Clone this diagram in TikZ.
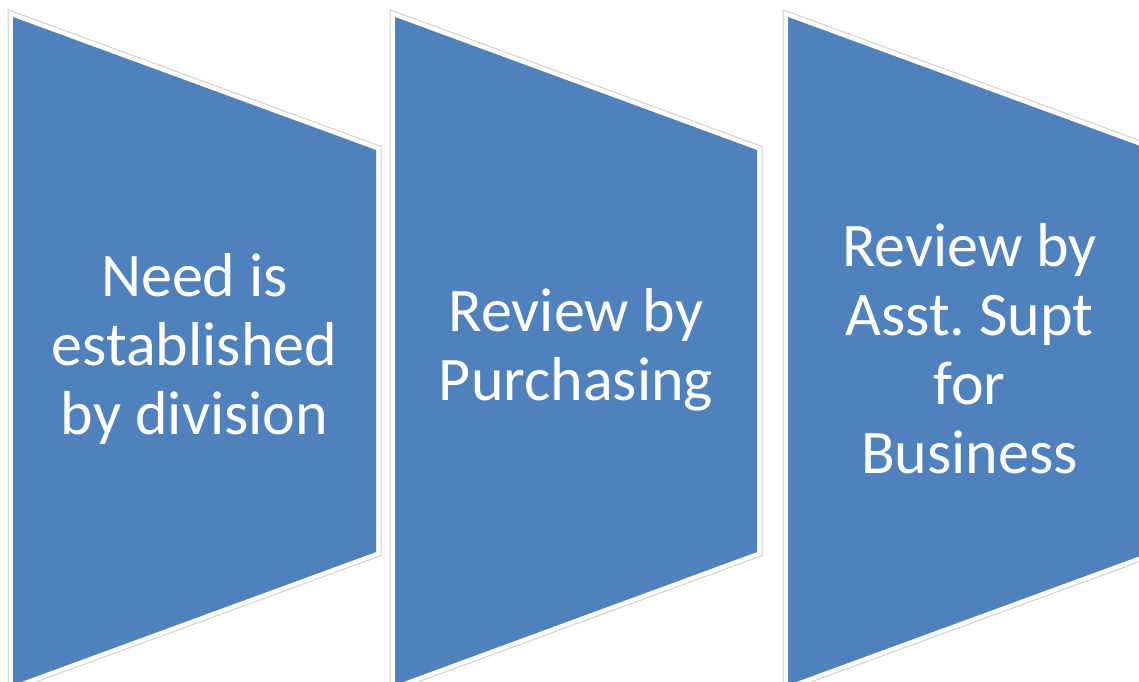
\documentclass[tikz,border=0pt]{standalone}
\usepackage{fontspec}
\setmainfont{Carlito}
\usepackage{xcolor}
\usepackage{tikz}
\usetikzlibrary{positioning}

\definecolor{stageblue}{HTML}{4F81BD}
\tikzset{
  stagerim/.style={draw=gray!40, line width=11pt, line join=miter},
  stagegap/.style={draw=white, line width=9pt, line join=miter},
  stagefill/.style={fill=stageblue},
  stagetext/.style={text=white, align=center, font=\fontsize{62}{69}\selectfont}
}

\begin{document}
\begin{tikzpicture}[x=1pt,y=-1pt]
\useasboundingbox (0,0) rectangle (1139,681);
\clip (0,0) rectangle (1139,681);
% first stage
\draw[stagerim] (13,17) -- (376,150) -- (376,552) -- (13,685) -- cycle;
\draw[stagegap] (13,17) -- (376,150) -- (376,552) -- (13,685) -- cycle;
\fill[stagefill] (13,17) -- (376,150) -- (376,552) -- (13,685) -- cycle;
% second stage
\draw[stagerim] (395,17) -- (757,150) -- (757,552) -- (395,685) -- cycle;
\draw[stagegap] (395,17) -- (757,150) -- (757,552) -- (395,685) -- cycle;
\fill[stagefill] (395,17) -- (757,150) -- (757,552) -- (395,685) -- cycle;
% third stage
\draw[stagerim] (788,17) -- (1151,150) -- (1151,552) -- (788,685) -- cycle;
\draw[stagegap] (788,17) -- (1151,150) -- (1151,552) -- (788,685) -- cycle;
\fill[stagefill] (788,17) -- (1151,150) -- (1151,552) -- (788,685) -- cycle;
% labels
\node[stagetext] (need) at (194.5,349) {Need is\\established\\by division};
\node[stagetext] (purch) at (576,350) {Review by\\Purchasing};
\node[stagetext] (busi) at (969.5,349) {Review by\\Asst.\ Supt\\for\\Business};
\end{tikzpicture}
\end{document}
